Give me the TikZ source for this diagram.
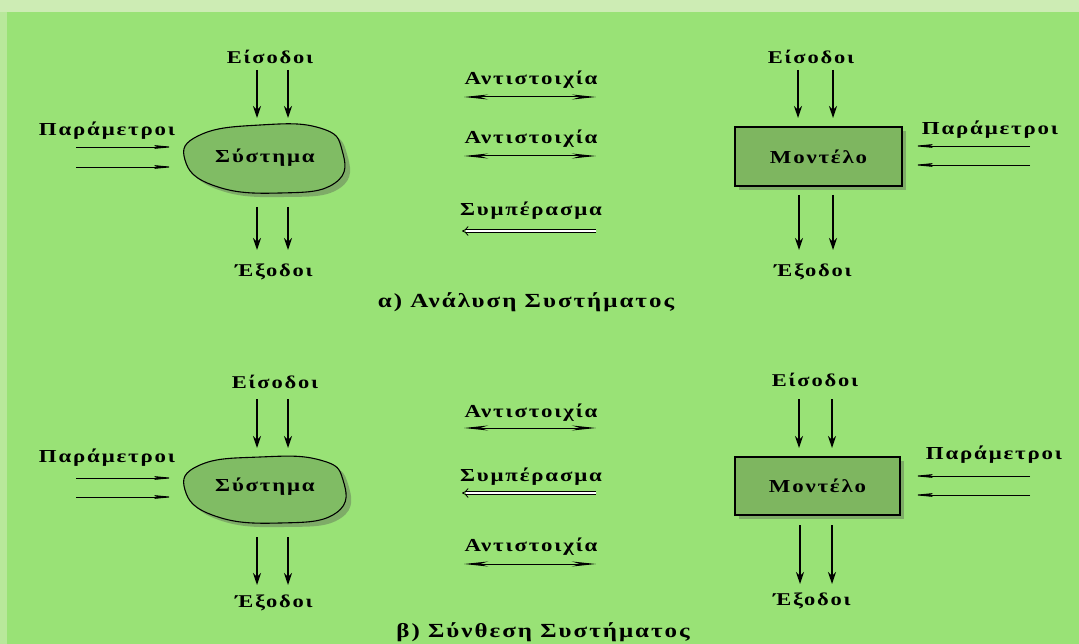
\documentclass[tikz,border=0pt]{standalone}
\usepackage{fontspec}
\setmainfont{Liberation Serif}
\newfontfamily\lbl[FakeStretch=1.25,LetterSpace=10]{Liberation Serif}
\usetikzlibrary{arrows.meta}
\definecolor{bg}{RGB}{153,226,118}
\definecolor{strip}{RGB}{205,236,180}
\definecolor{blobfill}{RGB}{128,188,100}
\definecolor{boxfill}{RGB}{126,182,96}
\definecolor{shade}{RGB}{100,120,90}
\tikzset{
  txt/.style={font=\lbl\bfseries\fontsize{18.3}{21}\selectfont, inner sep=0pt},
  small/.style={font=\lbl\bfseries\fontsize{18}{21}\selectfont, inner sep=0pt},
  capt/.style={font=\lbl\bfseries\fontsize{20}{23}\selectfont, inner sep=0pt},
  flow/.style={line width=1.4pt, -{Stealth[length=12pt,width=8pt]}},
  param/.style={line width=0.9pt, -{Stealth[length=24pt,width=4.5pt]}},
  corr/.style={line width=1pt, {Stealth[length=24pt,width=5pt]}-{Stealth[length=24pt,width=5pt]}},
  concl/.style={double, double distance=2.5pt, line width=0.8pt, {Implies[length=6pt]}-},
  modelbox/.style={draw, line width=1.3pt, fill=boxfill, inner sep=0pt, font=\lbl\bfseries\fontsize{18.3}{21}\selectfont},
  blobline/.style={line width=1.1pt, fill=blobfill},
  shadow/.style={fill=shade, opacity=0.5},
}
\begin{document}
\begin{tikzpicture}[x=1pt,y=-1pt]
\useasboundingbox (0,0) rectangle (1079,644);
\fill[bg] (0,0) rectangle (1079,644);
\fill[strip] (0,0) rectangle (1079,12);
\fill[strip!60!bg] (0,12) rectangle (7,644);

% ================= TOP PANEL (a) =================
\fill[shadow] plot[smooth cycle, tension=0.8] coordinates {(190,164) (204,139) (264,129) (324,132) (347,154) (340,188) (284,197) (219,190)};
\draw[blobline] plot[smooth cycle, tension=0.8] coordinates {(185,160) (200,135) (260,125) (320,128) (342,150) (335,183) (280,193) (215,186)};
\node[txt] (sysA) at (265,158) {Σύστημα};
\node[small] (inA) at (270,57) {Είσοδοι};
\coordinate (inA1s) at (257,70); \coordinate (inA1e) at (257,118);
\coordinate (inA2s) at (288,70); \coordinate (inA2e) at (288,118);
\draw[flow] (inA1s) -- (inA1e);
\draw[flow] (inA2s) -- (inA2e);
\coordinate (outA1s) at (257,207); \coordinate (outA1e) at (257,250);
\coordinate (outA2s) at (288,207); \coordinate (outA2e) at (288,250);
\draw[flow] (outA1s) -- (outA1e);
\draw[flow] (outA2s) -- (outA2e);
\node[small] (exA) at (274,272) {Έξοδοι};
\node[txt] (parA) at (107,131) {Παράμετροι};
\coordinate (pA1s) at (76,147); \coordinate (pA1e) at (174,147);
\coordinate (pA2s) at (76,167); \coordinate (pA2e) at (174,167);
\draw[param] (pA1s) -- (pA1e);
\draw[param] (pA2s) -- (pA2e);

\fill[shadow] (739,131) rectangle (906,190);
\node[modelbox, minimum width=167pt, minimum height=59pt] (modA) at (818.5,156.5) {Μοντέλο};
\node[small] (inB) at (811,57) {Είσοδοι};
\coordinate (inB1s) at (798,70); \coordinate (inB1e) at (798,118);
\coordinate (inB2s) at (833,70); \coordinate (inB2e) at (833,118);
\draw[flow] (inB1s) -- (inB1e);
\draw[flow] (inB2s) -- (inB2e);
\coordinate (outB1s) at (799,195); \coordinate (outB1e) at (799,250);
\coordinate (outB2s) at (833,195); \coordinate (outB2e) at (833,250);
\draw[flow] (outB1s) -- (outB1e);
\draw[flow] (outB2s) -- (outB2e);
\node[small] (exB) at (813,272) {Έξοδοι};
\node[txt] (parB) at (990,130) {Παράμετροι};
\coordinate (pB1s) at (1030,146); \coordinate (pB1e) at (913,146);
\coordinate (pB2s) at (1030,165); \coordinate (pB2e) at (913,165);
\draw[param] (pB1s) -- (pB1e);
\draw[param] (pB2s) -- (pB2e);

\node[txt] (cA1) at (531,80) {Αντιστοιχία};
\coordinate (cA1l) at (464,97); \coordinate (cA1r) at (596,97);
\draw[corr] (cA1l) -- (cA1r);
\node[txt] (cA2) at (531,139) {Αντιστοιχία};
\coordinate (cA2l) at (464,156); \coordinate (cA2r) at (596,156);
\draw[corr] (cA2l) -- (cA2r);
\node[txt] (sA) at (531,211) {Συμπέρασμα};
\coordinate (sAl) at (462,231); \coordinate (sAr) at (596,231);
\draw[concl] (sAl) -- (sAr);

\node[capt] (capA) at (526,302) {α) Ανάλυση Συστήματος};

% ================= BOTTOM PANEL (b) =================
\fill[shadow] plot[smooth cycle, tension=0.8] coordinates {(190,494) (204,469) (264,461) (324,464) (348,484) (341,518) (284,527) (219,520)};
\draw[blobline] plot[smooth cycle, tension=0.8] coordinates {(185,490) (200,465) (260,457) (320,460) (343,480) (336,513) (280,523) (215,516)};
\node[txt] (sysC) at (265,487) {Σύστημα};
\node[small] (inC) at (275,382) {Είσοδοι};
\coordinate (inC1s) at (257,399); \coordinate (inC1e) at (257,448);
\coordinate (inC2s) at (288,399); \coordinate (inC2e) at (288,448);
\draw[flow] (inC1s) -- (inC1e);
\draw[flow] (inC2s) -- (inC2e);
\coordinate (outC1s) at (257,537); \coordinate (outC1e) at (257,585);
\coordinate (outC2s) at (288,537); \coordinate (outC2e) at (288,585);
\draw[flow] (outC1s) -- (outC1e);
\draw[flow] (outC2s) -- (outC2e);
\node[small] (exC) at (274,603) {Έξοδοι};
\node[txt] (parC) at (107,458) {Παράμετροι};
\coordinate (pC1s) at (76,478); \coordinate (pC1e) at (174,478);
\coordinate (pC2s) at (76,497); \coordinate (pC2e) at (174,497);
\draw[param] (pC1s) -- (pC1e);
\draw[param] (pC2s) -- (pC2e);

\fill[shadow] (739,461) rectangle (904,519);
\node[modelbox, minimum width=165pt, minimum height=58pt] (modC) at (817.5,486) {Μοντέλο};
\node[small] (inD) at (815,380) {Είσοδοι};
\coordinate (inD1s) at (799,399); \coordinate (inD1e) at (799,448);
\coordinate (inD2s) at (832,399); \coordinate (inD2e) at (832,448);
\draw[flow] (inD1s) -- (inD1e);
\draw[flow] (inD2s) -- (inD2e);
\coordinate (outD1s) at (800,525); \coordinate (outD1e) at (800,584);
\coordinate (outD2s) at (832,525); \coordinate (outD2e) at (832,584);
\draw[flow] (outD1s) -- (outD1e);
\draw[flow] (outD2s) -- (outD2e);
\node[small] (exD) at (812,601) {Έξοδοι};
\node[txt] (parD) at (994,455) {Παράμετροι};
\coordinate (pD1s) at (1030,476); \coordinate (pD1e) at (913,476);
\coordinate (pD2s) at (1030,495); \coordinate (pD2e) at (913,495);
\draw[param] (pD1s) -- (pD1e);
\draw[param] (pD2s) -- (pD2e);

\node[txt] (cC1) at (531,413) {Αντιστοιχία};
\coordinate (cC1l) at (464,428); \coordinate (cC1r) at (596,428);
\draw[corr] (cC1l) -- (cC1r);
\node[txt] (sC) at (531,477) {Συμπέρασμα};
\coordinate (sCl) at (462,493); \coordinate (sCr) at (596,493);
\draw[concl] (sCl) -- (sCr);
\node[txt] (cC2) at (531,547) {Αντιστοιχία};
\coordinate (cC2l) at (464,564); \coordinate (cC2r) at (596,564);
\draw[corr] (cC2l) -- (cC2r);

\node[capt] (capC) at (543,632) {β) Σύνθεση Συστήματος};
\end{tikzpicture}
\end{document}
